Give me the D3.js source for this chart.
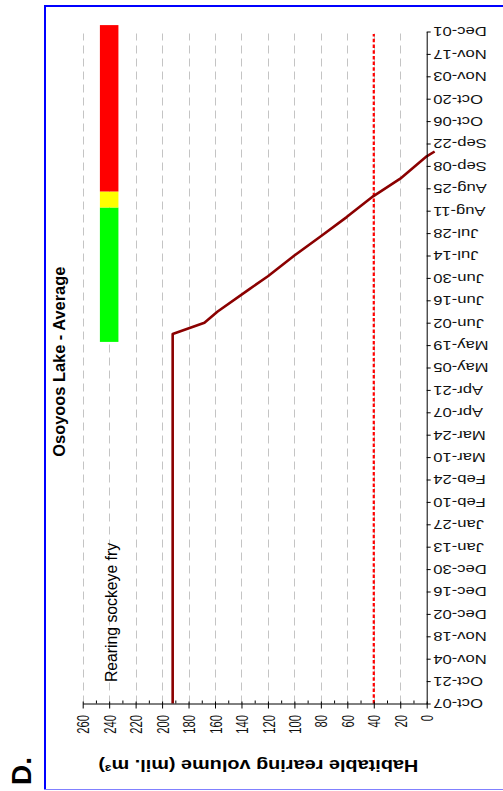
<!DOCTYPE html>
<html>
<head>
<meta charset="utf-8">
<script src="https://cdn.jsdelivr.net/npm/d3@7"></script>
<style>
  body { margin: 0; background: #fff; }
  svg { display: block; }
  text { font-family: "Liberation Sans", Arial, sans-serif; fill: #000; }
</style>
</head>
<body>
<svg id="chart" width="503" height="791"></svg>
<script>
// ---- data ----
const dateTickLabels = ["Oct-07","Oct-21","Nov-04","Nov-18","Dec-02","Dec-16","Dec-30","Jan-13","Jan-27",
  "Feb-10","Feb-24","Mar-10","Mar-24","Apr-07","Apr-21","May-05","May-19","Jun-02","Jun-16","Jun-30",
  "Jul-14","Jul-28","Aug-11","Aug-25","Sep-08","Sep-22","Oct-06","Oct-20","Nov-03","Nov-17","Dec-01"];
const valueTicks = [0,20,40,60,80,100,120,140,160,180,200,220,240,260];
const minorValueTicks = [10,30,50,70,90,110,130,150,170,190,210,230,250];

// habitable rearing volume over the season (mil. m3)
const volumeDates  = ["2006-10-07","2007-05-26","2007-06-02","2007-06-09","2007-06-23","2007-07-01",
  "2007-07-14","2007-07-26","2007-08-07","2007-08-20","2007-08-31","2007-09-14","2007-09-17"];
const volumeValues = [192,192,168,158,134,120,100,80,60.5,40.5,20,0,-6];

// minimum habitable volume threshold
const thresholdValue = 40;

// rearing-condition status band
const bandStatus = ["good","marginal","poor"];
const bandStart  = ["2007-05-21","2007-08-13","2007-08-23"];
const bandEnd    = ["2007-08-13","2007-08-23","2007-12-05"];
const bandValueRange = [233, 247];

const titleText = "Osoyoos Lake - Average";
const noteText = "Rearing sockeye fry";
const axisTitleText = "Habitable rearing volume (mil. m³)";
const panelLetter = "D.";

// ---- styles ----
const bandFill = { good: "#00ff00", marginal: "#ffff00", poor: "#ff0000" };
const lineColor = "#8b0000";

// ---- scales ----
const parse = d3.utcParse("%Y-%m-%d");
const dStart = parse("2006-10-07");
const dEnd = parse("2007-12-01");
const tickDates = dateTickLabels.map((_, i) => d3.utcDay.offset(dStart, 14 * i));

const y = d3.scaleUtc().domain([dStart, dEnd]).range([703.5, 31.5]);
const x = d3.scaleLinear().domain([0, 260]).range([426.7, 82.7]);

const svg = d3.select("#chart");

// frame
svg.append("line").attr("x1", 45).attr("x2", 45).attr("y1", 5).attr("y2", 790)
  .attr("stroke", "#0000ff").attr("stroke-width", 2);
svg.append("line").attr("x1", 44).attr("x2", 503).attr("y1", 6).attr("y2", 6)
  .attr("stroke", "#0000ff").attr("stroke-width", 2);
svg.append("line").attr("x1", 44).attr("x2", 503).attr("y1", 789.5).attr("y2", 789.5)
  .attr("stroke", "#8080ff").attr("stroke-width", 1);

// gridlines
svg.append("g").selectAll("line").data(valueTicks.filter(v => v > 0)).join("line")
  .attr("x1", d => Math.round(x(d)) + 0.5).attr("x2", d => Math.round(x(d)) + 0.5)
  .attr("y1", y(dStart)).attr("y2", y(dEnd) + 2)
  .attr("stroke", "#c4c4c4").attr("stroke-width", 1).attr("stroke-dasharray", "8,5");

// threshold
svg.append("line")
  .attr("x1", x(thresholdValue)).attr("x2", x(thresholdValue))
  .attr("y1", y(dStart)).attr("y2", y(dEnd) + 2.5)
  .attr("stroke", "#ff0000").attr("stroke-width", 2.2).attr("stroke-dasharray", "3.5,2.2");

// status band
svg.append("g").selectAll("rect").data(bandStatus).join("rect")
  .attr("x", x(bandValueRange[1]))
  .attr("width", x(bandValueRange[0]) - x(bandValueRange[1]))
  .attr("y", (d, i) => y(parse(bandEnd[i])))
  .attr("height", (d, i) => y(parse(bandStart[i])) - y(parse(bandEnd[i])))
  .attr("fill", d => bandFill[d]);

// volume line
const pts = volumeDates.map((d, i) => [parse(d), volumeValues[i]]);
svg.append("path").datum(pts)
  .attr("fill", "none").attr("stroke", lineColor).attr("stroke-width", 2.6)
  .attr("stroke-linejoin", "round")
  .attr("d", d3.line().x(d => x(d[1])).y(d => y(d[0])));

// date axis
const dateAxis = d3.axisRight(y).tickValues(tickDates).tickSize(4).tickSizeOuter(0)
  .tickFormat((d, i) => dateTickLabels[i]);
const gDate = svg.append("g").attr("transform", `translate(${x(0)},0)`).call(dateAxis);
gDate.select(".domain").attr("stroke", "#000");
gDate.selectAll(".tick line").attr("stroke", "#000");
gDate.selectAll(".tick text")
  .attr("x", null).attr("dy", "0.36em")
  .attr("text-anchor", "end")
  .attr("transform", "translate(6.5,0) rotate(180) scale(1.33,1)")
  .style("font-size", "12.5px").style("fill", "#111");

// value axis
const valueAxis = d3.axisBottom(x).tickValues(valueTicks).tickSize(5).tickSizeOuter(0);
const gVal = svg.append("g").attr("transform", `translate(0,${y(dStart)})`).call(valueAxis);
gVal.select(".domain").attr("stroke", "#000");
gVal.selectAll(".tick line").attr("stroke", "#000").attr("y1", -2);
gVal.selectAll(".tick text")
  .attr("y", null).attr("dy", "0.36em")
  .attr("text-anchor", "end")
  .attr("transform", "translate(0,11.5) rotate(-90) scale(0.66,1)")
  .style("font-size", "17px").style("fill", "#111");
const minorAxis = d3.axisBottom(x).tickValues(minorValueTicks).tickSize(-3).tickSizeOuter(0).tickFormat("");
const gMinor = svg.append("g").attr("transform", `translate(0,${y(dStart)})`).call(minorAxis);
gMinor.select(".domain").remove();
gMinor.selectAll(".tick line").attr("stroke", "#000");

// titles and notes
svg.append("text").text(titleText)
  .attr("transform", "translate(64.7,456.7) rotate(-90)")
  .attr("textLength", 190).attr("lengthAdjust", "spacingAndGlyphs")
  .style("font-size", "16px").style("font-weight", "bold");

svg.append("text").text(noteText)
  .attr("transform", "translate(116.7,682) rotate(-90)")
  .attr("textLength", 139).attr("lengthAdjust", "spacingAndGlyphs")
  .style("font-size", "16px");

svg.append("text").text(axisTitleText)
  .attr("transform", "translate(418.3,760) rotate(180)")
  .attr("textLength", 320).attr("lengthAdjust", "spacingAndGlyphs")
  .style("font-size", "16px").style("font-weight", "bold");

svg.append("text").text(panelLetter)
  .attr("transform", "translate(31,785) rotate(-90)")
  .style("font-size", "28px").style("font-weight", "bold");
</script>
</body>
</html>
